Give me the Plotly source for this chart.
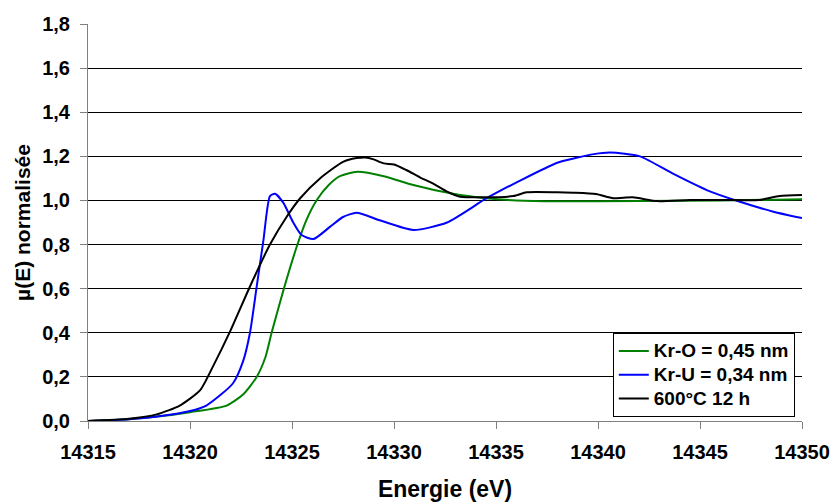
import plotly.graph_objects as go

# Kr-O = 0,45 nm (green)
E_green = [14315, 14317, 14318.4, 14320, 14321.8, 14322.6, 14323.27, 14323.7, 14324.0, 14324.57,
           14325.23, 14325.7, 14326.2, 14326.8, 14327.35, 14328.2, 14329.5, 14330.95, 14332.9,
           14334.5, 14336, 14338, 14342, 14346, 14350]
Y_green = [0.0, 0.008, 0.02, 0.04, 0.07, 0.12, 0.20, 0.29, 0.40, 0.59,
           0.79, 0.91, 1.0, 1.07, 1.11, 1.13, 1.11, 1.07, 1.03,
           1.01, 1.0, 0.996, 0.998, 1.0, 1.005]

# Kr-U = 0,34 nm (blue)
E_blue = [14315, 14317, 14318.4, 14320, 14320.8, 14322.1, 14322.6, 14322.94, 14323.27, 14323.6,
          14323.92, 14324.17, 14324.57, 14325.06, 14325.47, 14326.05, 14326.86, 14327.5, 14328.17,
          14329.3, 14330.95, 14332.6, 14334.54, 14336.18, 14337.97, 14338.8, 14339.8, 14340.6,
          14342.06, 14343.7, 14345.33, 14346.96, 14348.6, 14350]
Y_blue = [0.0, 0.008, 0.02, 0.045, 0.07, 0.17, 0.27, 0.40, 0.61, 0.82,
          1.02, 1.03, 0.99, 0.90, 0.843, 0.825, 0.88, 0.925, 0.944,
          0.91, 0.866, 0.90, 1.01, 1.09, 1.17, 1.19, 1.21, 1.217,
          1.20, 1.12, 1.047, 0.994, 0.949, 0.92]

# 600°C 12 h (black)
E_black = [14315, 14317, 14318.37, 14319.5, 14320.5, 14321.14, 14321.96, 14322.94, 14323.92,
           14324.74, 14325.4, 14326.37, 14327.5, 14328.17, 14328.6, 14329.0, 14329.5, 14330.0,
           14330.6, 14331.27, 14331.9, 14332.6, 14333.24, 14334.2, 14335.85, 14336.5, 14338.0,
           14338.8, 14339.9, 14340.75, 14341.7, 14342.9, 14344.5, 14346.1, 14347.9, 14348.9, 14350]
Y_black = [0.0, 0.01, 0.03, 0.07, 0.14, 0.25, 0.405, 0.61, 0.80,
           0.926, 1.01, 1.10, 1.175, 1.192, 1.195, 1.186, 1.168, 1.163,
           1.138, 1.105, 1.077, 1.04, 1.017, 1.014, 1.02, 1.037, 1.037,
           1.035, 1.029, 1.01, 1.014, 0.997, 1.002, 1.002, 1.002, 1.02, 1.025]

series_names = ["Kr-O = 0,45 nm", "Kr-U = 0,34 nm", "600°C 12 h"]
x_ticks = [14315, 14320, 14325, 14330, 14335, 14340, 14345, 14350]
y_ticks = [0.0, 0.2, 0.4, 0.6, 0.8, 1.0, 1.2, 1.4, 1.6, 1.8]

FONT = "Arial, 'Liberation Sans', sans-serif"


def legend_label(name):
    return '<span style="font-size:19px">' + name + '</span>'


fig = go.Figure()
fig.add_trace(go.Scatter(x=E_green, y=Y_green, mode="lines", name=legend_label(series_names[0]),
                         line=dict(color="#008000", width=2, shape="spline", smoothing=0.6)))
fig.add_trace(go.Scatter(x=E_blue, y=Y_blue, mode="lines", name=legend_label(series_names[1]),
                         line=dict(color="#0000FF", width=2, shape="spline", smoothing=0.6)))
fig.add_trace(go.Scatter(x=E_black, y=Y_black, mode="lines", name=legend_label(series_names[2]),
                         line=dict(color="#000000", width=2, shape="spline", smoothing=0.6)))

fig.update_layout(
    width=833, height=502,
    margin=dict(l=88, r=31, t=24, b=81, autoexpand=False),
    paper_bgcolor="white", plot_bgcolor="white",
    separators=",.",
    font=dict(family=FONT, size=20, color="black"),
    showlegend=True,
    legend=dict(x=0.735, y=0.01, xanchor="left", yanchor="bottom",
                bgcolor="white", bordercolor="black", borderwidth=1,
                font=dict(family=FONT, size=16, color="black", weight="bold"),
                tracegroupgap=0, itemwidth=30),
)
fig.update_xaxes(
    range=[14315, 14350], tickvals=x_ticks, tickformat="d",
    showgrid=False, showline=True, linecolor="#808080", linewidth=1,
    ticks="outside", ticklen=7, tickcolor="#808080", ticklabelstandoff=6,
    tickfont=dict(family=FONT, size=20, weight="bold"),
    title=dict(text="<b>Energie (eV)</b>", font=dict(family=FONT, size=23), standoff=18),
    zeroline=False, automargin=False,
)
fig.update_yaxes(
    range=[0, 1.8], tickvals=y_ticks, tickformat=".1f",
    showgrid=True, gridcolor="#000000", gridwidth=1,
    showline=True, linecolor="#808080", linewidth=1,
    ticks="outside", ticklen=7, tickcolor="#808080", ticklabelstandoff=6,
    tickfont=dict(family=FONT, size=20, weight="bold"),
    title=dict(text="<b>µ(E) normalisée</b>", font=dict(family=FONT, size=21), standoff=5),
    zeroline=False, automargin=False,
)

fig.write_html("out.html", config={"displayModeBar": False},
               post_script="document.body.style.margin='0';document.body.style.overflow='hidden';")
